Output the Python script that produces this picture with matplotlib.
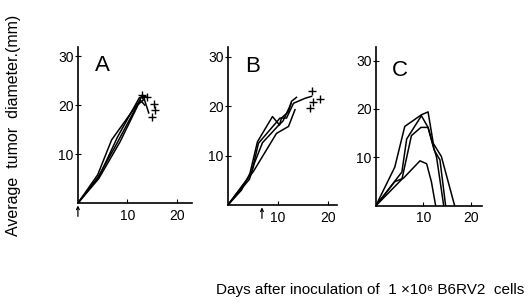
import numpy as np
import matplotlib
matplotlib.use('Agg')
import matplotlib.pyplot as plt

plt.rcParams['font.family'] = ['Liberation Sans', 'DejaVu Sans']

# panel A: tumor diameter (mm) vs days
a_days = [[0, 4.0, 6.8, 12.2, 13.0, 13.9],
          [0, 4.3, 8.0, 12.4, 13.2, 14.3],
          [0, 4.0, 7.5, 12.0, 13.4],
          [0, 4.2, 8.5, 12.6, 13.5]]
a_mm = [[0, 5.8, 12.9, 20.5, 22.0, 21.6],
        [0, 5.5, 13.5, 21.5, 21.8, 18.4],
        [0, 5.2, 11.5, 20.0, 21.2],
        [0, 5.0, 12.5, 21.0, 20.0]]
a_dead_days = [13.0, 13.9, 15.4, 15.6, 14.9]
a_dead_mm = [22.0, 21.6, 20.3, 19.0, 17.5]

# panel B
b_days = [[0, 2.7, 4.4, 5.9, 8.9, 10.3, 10.7, 12.1, 12.7, 13.7],
          [0, 4.7, 6.1, 10.4, 11.7, 13.1, 15.4, 16.7],
          [0, 5.1, 9.7, 12.1, 13.4],
          [0, 4.3, 5.3, 6.9, 10.0, 11.0, 12.6]]
b_mm = [[0, 3.0, 6.4, 12.8, 17.9, 16.2, 17.6, 18.9, 21.0, 21.8],
        [0, 6.4, 12.5, 17.6, 17.6, 20.6, 21.6, 22.0],
        [0, 6.8, 14.5, 15.9, 19.3],
        [0, 5.2, 8.5, 12.6, 16.0, 17.0, 20.5]]
b_dead_days = [16.7, 16.9, 16.3, 18.3]
b_dead_mm = [23.0, 20.9, 19.6, 21.5]

# panel C
c_days = [[0, 4.0, 6.1, 9.6, 11.0, 12.1, 13.8, 16.6],
          [0, 5.5, 6.5, 9.6, 11.0, 12.3, 13.5, 14.7],
          [0, 5.5, 7.5, 9.5, 11.0, 12.2, 12.8, 14.3],
          [0, 4.0, 5.8, 9.3, 10.7, 11.7, 12.6]]
c_mm = [[0, 8.0, 16.4, 18.8, 19.4, 12.9, 10.2, 0],
        [0, 7.0, 13.8, 18.6, 16.2, 11.5, 9.5, 0],
        [0, 5.5, 14.5, 16.2, 16.2, 12.0, 10.0, 0],
        [0, 5.0, 5.7, 9.3, 8.7, 5.0, 0]]

letters = ['A', 'B', 'C']
arrow_day = [0, 6.8, None]

fig = plt.figure(figsize=(5.3, 3.05), dpi=100)
boxes = [[0.147, 0.334, 0.215, 0.511],
         [0.430, 0.328, 0.206, 0.518],
         [0.709, 0.325, 0.200, 0.521]]
xmax = [23, 21.8, 22.3]
ymax = [31.8, 32.0, 32.8]

all_days = [a_days, b_days, c_days]
all_mm = [a_mm, b_mm, c_mm]
dead = [(a_dead_days, a_dead_mm), (b_dead_days, b_dead_mm), None]

for i in range(3):
    ax = fig.add_axes(boxes[i])
    for d, m in zip(all_days[i], all_mm[i]):
        ax.plot(d, m, color='black', lw=1.1)
    if dead[i] is not None:
        ax.plot(dead[i][0], dead[i][1], '+', color='black', ms=6, mew=1.0)
    ax.set_xlim(0, xmax[i])
    ax.set_ylim(0, ymax[i])
    ax.spines['top'].set_visible(False)
    ax.spines['right'].set_visible(False)
    ax.spines['left'].set_linewidth(1.2)
    ax.spines['bottom'].set_linewidth(1.2)
    ax.set_xticks([10, 20])
    ax.set_yticks([10, 20, 30])
    ax.tick_params(axis='x', direction='in', length=3, labelsize=10, pad=4)
    ax.tick_params(axis='y', direction='inout', length=4, labelsize=10, pad=1)
    ax.text(5.0, 28.0, letters[i], fontsize=16, ha='center', va='center')
    if arrow_day[i] is not None:
        ax.annotate('', xy=(arrow_day[i], -0.015), xycoords=('data', 'axes fraction'),
                    xytext=(arrow_day[i], -0.085), textcoords=('data', 'axes fraction'),
                    arrowprops=dict(arrowstyle='->', color='black', lw=0.9,
                                    mutation_scale=5, shrinkA=0, shrinkB=0),
                    annotation_clip=False)

fig.text(0.025, 0.59, 'Average  tumor  diameter.(mm)', rotation=90,
         ha='center', va='center', fontsize=11.5)
fig.text(0.698, 0.05, 'Days after inoculation of  1 \u00d710\u2076 B6RV2  cells',
         ha='center', va='center', fontsize=11)

fig.savefig('out.png', dpi=100)
